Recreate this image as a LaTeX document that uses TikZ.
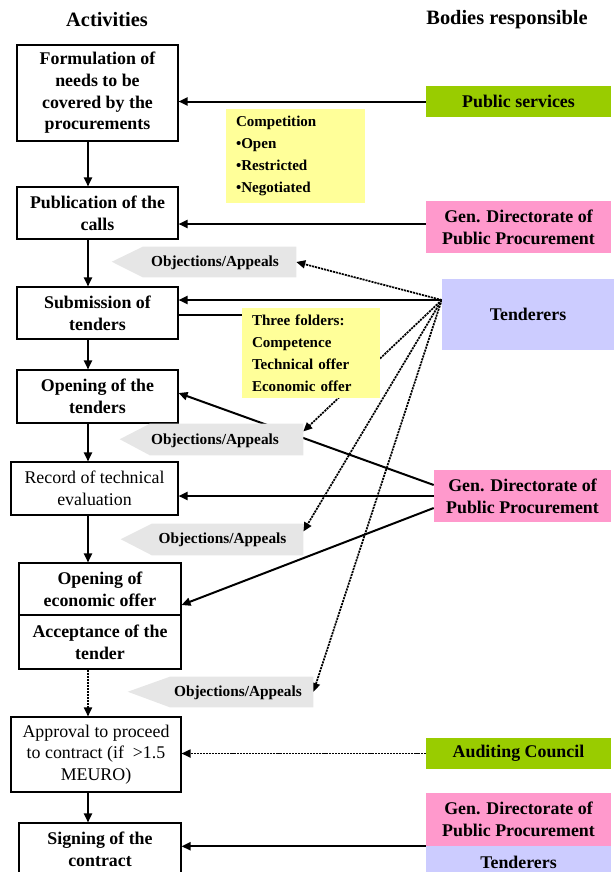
\documentclass[tikz,border=0pt]{standalone}
\usepackage{fontspec}
\setmainfont{Liberation Serif}
\usetikzlibrary{arrows.meta,backgrounds}
\definecolor{greenbox}{HTML}{99CC00}
\definecolor{pinkbox}{HTML}{FF99CC}
\definecolor{lilacbox}{HTML}{CCCCFF}
\definecolor{notebox}{HTML}{FFFF99}
\definecolor{appealgray}{HTML}{E6E6E6}

\begin{document}
\begin{tikzpicture}[x=0.75pt,y=-0.75pt,
  boxfont/.style={font=\fontsize{13.4pt}{16.3pt}\selectfont\bfseries},
  plainfont/.style={font=\fontsize{13.4pt}{16.3pt}\selectfont},
  activity/.style={draw, line width=0.8pt, fill=white, align=center, inner sep=0pt, boxfont},
  body/.style={align=center, inner sep=0pt, boxfont},
  note/.style={fill=notebox, align=left, inner xsep=7.5pt, inner ysep=0pt,
    font=\fontsize{11.3pt}{16.5pt}\selectfont\bfseries},
  appeal/.style={inner sep=0pt},
  appealtext/.style={inner sep=0pt, font=\fontsize{11.5pt}{14pt}\selectfont\bfseries},
  title/.style={font=\fontsize{15.3pt}{18pt}\selectfont\bfseries},
  flow/.style={line width=1.5pt, -{Triangle[length=6.75pt,width=6pt]}},
  dflow/.style={line width=1.3pt, dash pattern=on 1.6pt off 0.7pt, -{Triangle[length=6.75pt,width=6pt]}},
  link/.style={line width=0.8pt}
]
\useasboundingbox (0,0) rectangle (614,872);

% column headings
\node[title] (tact) at (107,20) {Activities};
\node[title] (tbod) at (507,20) {Bodies responsible};

% activities
\node[activity, minimum width=120.75pt, minimum height=72pt] (formul) at (97.5,93)
  {Formulation of\\needs to be\\covered by the\\procurements};
\node[activity, minimum width=120.75pt, minimum height=39pt] (publ) at (97.5,213)
  {Publication of the\\calls};
\node[activity, minimum width=120.75pt, minimum height=39pt] (subm) at (97.5,313)
  {Submission of\\tenders};
\node[activity, minimum width=120.75pt, minimum height=39.75pt] (open) at (97.5,396.5)
  {Opening of the\\tenders};
\node[activity, plainfont, minimum width=125.25pt, minimum height=39.75pt] (rec) at (94.5,488.5)
  {Record of technical\\evaluation};
\node[activity, minimum width=121.5pt, minimum height=39pt] (econ) at (100,589)
  {Opening of\\economic offer};
\node[activity, minimum width=121.5pt, minimum height=40.5pt] (accept) at (100,642)
  {Acceptance of the\\tender};
\node[activity, plainfont, minimum width=127.5pt, minimum height=56.25pt] (appr) at (96,754.5)
  {Approval to proceed\\to contract (if~ >1.5\\MEURO)};
\node[activity, minimum width=121.5pt, minimum height=39pt] (sign) at (100,849)
  {Signing of the\\contract};

% bodies responsible
\node[body, fill=greenbox, minimum width=138.75pt, minimum height=23.25pt] (pubserv) at (518.5,101.5)
  {Public services};
\node[body, fill=pinkbox, minimum width=138.75pt, minimum height=39pt] (gd1) at (518.5,227)
  {Gen. Directorate of\\Public Procurement};
\node[body, fill=lilacbox, minimum width=129pt, minimum height=53.25pt] (tend) at (528,314.5)
  {Tenderers};
\node[body, fill=pinkbox, minimum width=132.75pt, minimum height=39pt] (gd2) at (522.5,496)
  {Gen. Directorate of\\Public Procurement};
\node[body, fill=greenbox, minimum width=138.75pt, minimum height=23.25pt] (aud) at (518.5,753.5)
  {Auditing Council};
\node[body, fill=pinkbox, minimum width=138.75pt, minimum height=39.75pt] (gd3) at (518.5,819.5)
  {Gen. Directorate of\\Public Procurement};
\node[body, fill=lilacbox, minimum width=138.75pt, minimum height=24pt] (tend2) at (518.5,862)
  {Tenderers};

% notes
\node[note, text width=89.25pt, minimum height=70.5pt] (comp) at (295.5,156)
  {Competition\\•Open\\•Restricted\\•Negotiated};
\node[note, text width=88.5pt, minimum height=67.5pt] (folders) at (311,353)
  {Three folders:\\Competence\\Technical offer\\Economic offer};

% objection / appeal pointers
\node[appeal, minimum width=114.75pt, minimum height=22.5pt] (oa1) at (219.5,262) {};
\node[appeal, minimum width=114.75pt, minimum height=23.25pt] (oa2) at (226.5,439.5) {};
\node[appeal, minimum width=113.25pt, minimum height=23.25pt] (oa3) at (227.5,539.5) {};
\node[appeal, minimum width=107.25pt, minimum height=22.5pt] (oa4) at (241.5,692) {};
\fill[appealgray] (oa1.north east) -- (oa1.north west) -- ++(-31,15) -- (oa1.south west) -- (oa1.south east) -- cycle;
\fill[appealgray] (oa2.north east) -- (oa2.north west) -- ++(-30,15.5) -- (oa2.south west) -- (oa2.south east) -- cycle;
\fill[appealgray] (oa3.north east) -- (oa3.north west) -- ++(-31,15.5) -- (oa3.south west) -- (oa3.south east) -- cycle;
\fill[appealgray] (oa4.north east) -- (oa4.north west) -- ++(-42,15) -- (oa4.south west) -- (oa4.south east) -- cycle;
\node[appealtext] (oa1t) at (215,263) {Objections/Appeals};
\node[appealtext] (oa2t) at (215,441) {Objections/Appeals};
\node[appealtext] (oa3t) at (222.5,540) {Objections/Appeals};
\node[appealtext] (oa4t) at (238,693) {Objections/Appeals};

\coordinate (ax) at (88,0);
\coordinate (hub) at ([yshift=10.875pt]tend.west);

\begin{pgfonlayer}{background}
  % main sequence
  \draw[flow] (formul.south -| ax) -- (publ.north -| ax);
  \draw[flow] (publ.south -| ax) -- (subm.north -| ax);
  \draw[flow] (subm.south -| ax) -- (open.north -| ax);
  \draw[flow] (open.south -| ax) -- (rec.north -| ax);
  \draw[flow] (rec.south -| ax) -- (econ.north -| ax);
  \draw[dflow] (accept.south -| ax) -- (appr.north -| ax);
  \draw[flow] (appr.south -| ax) -- (sign.north -| ax);

  % responsibilities
  \draw[flow] (pubserv.west) -- (pubserv.west -| formul.east);
  \draw[flow] ([yshift=2.25pt]gd1.west) -- ([yshift=2.25pt]gd1.west -| publ.east);
  \draw[flow] (hub) -- (hub -| subm.east);
  \draw[dflow] (hub) -- (oa1.east);
  \draw[dflow] (hub) -- (oa2.6);
  \draw[dflow] (hub) -- (oa3.6);
  \draw[dflow] (hub) -- (oa4.east);
  \draw[link] ([yshift=-1.5pt]subm.east) -- ([yshift=-1.5pt]subm.east -| folders.west);
  \draw[flow] ([yshift=8.25pt]gd2.west) -- ([yshift=2.6pt]open.east);
  \draw[flow] (gd2.west) -- (gd2.west -| rec.east);
  \draw[flow] ([yshift=-9pt]gd2.west) -- ([yshift=-12pt]econ.east);
  \draw[dflow] (aud.west) -- (aud.west -| appr.east);
  \draw[flow] (gd3.south west) -- (gd3.south west -| sign.east);
\end{pgfonlayer}
\end{tikzpicture}
\end{document}
